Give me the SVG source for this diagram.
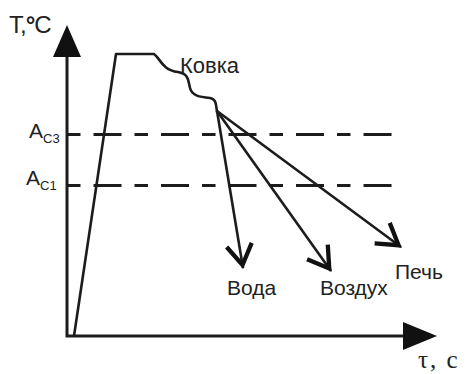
<svg xmlns="http://www.w3.org/2000/svg" width="467" height="374" viewBox="0 0 467 374">
  <style>
    .ln { fill: none; stroke: #1c1c1c; stroke-width: 2.6; stroke-linecap: butt; stroke-linejoin: round; }
    .ax { fill: none; stroke: #1c1c1c; stroke-width: 3; }
    .dash { fill: none; stroke: #1c1c1c; stroke-width: 3; stroke-dasharray: 13.5 13 28 13; }
    .head { fill: #111; stroke: none; }
    .lbl { font-family: "Liberation Sans", Arial, sans-serif; fill: #222; }
    .ser { font-family: "Liberation Serif", "Times New Roman", serif; fill: #222; }
  </style>
  <defs>
    <marker id="chev" viewBox="-30 -20 40 40" markerWidth="40" markerHeight="40" refX="3" refY="0" orient="auto" markerUnits="userSpaceOnUse">
      <path d="M-20.4,-12.7 L0,0 L-20.4,12.7" fill="none" stroke="#111" stroke-width="4.3" stroke-linejoin="miter"/>
    </marker>
  </defs>

  <!-- axes -->
  <g id="axes">
    <path class="ax" d="M67,57 L67,336 L405,336"/>
    <polygon class="head" points="67,25 81,57 53,57"/>
    <polygon class="head" points="437,336 403,322 403,350"/>
  </g>

  <!-- critical temperature levels -->
  <g id="levels">
    <line class="dash" x1="67" y1="134.5" x2="393" y2="134.5"/>
    <line class="dash" x1="67" y1="185.5" x2="393" y2="185.5"/>
  </g>

  <!-- heating, holding and forging curve -->
  <g id="forging">
    <path class="ln" d="M74,336 L116,54 L154,54 C160,58 162,70 178,72 C189,74 188,80 190,88 C192,96 200,97 210,98 C216,99 216,104 217,112"/>
  </g>

  <!-- cooling paths -->
  <g id="connectors">
    <line class="ln" x1="217" y1="111" x2="243" y2="268" marker-end="url(#chev)"/>
    <line class="ln" x1="217" y1="111" x2="331" y2="271" marker-end="url(#chev)"/>
    <line class="ln" x1="217" y1="111" x2="401" y2="247" marker-end="url(#chev)"/>
  </g>

  <!-- labels -->
  <g id="label-t">
    <text class="lbl" font-size="24" x="9" y="33" letter-spacing="-1">T,<tspan font-weight="bold">°</tspan>C</text>
  </g>
  <g id="label-ac3">
    <text class="lbl" font-size="21" x="29" y="138">A<tspan font-size="13" dy="5">C3</tspan></text>
  </g>
  <g id="label-ac1">
    <text class="lbl" font-size="21" x="26" y="185">A<tspan font-size="13" dy="5">C1</tspan></text>
  </g>
  <g id="label-kovka">
    <text class="lbl" font-size="22" x="180" y="73">Ковка</text>
  </g>
  <g id="label-voda">
    <text class="lbl" font-size="21" x="227" y="295">Вода</text>
  </g>
  <g id="label-vozdukh">
    <text class="lbl" font-size="21" x="320" y="295">Воздух</text>
  </g>
  <g id="label-pech">
    <text class="lbl" font-size="21" x="395" y="279">Печь</text>
  </g>
  <g id="label-tau">
    <text class="ser" font-size="25" x="418" y="368" letter-spacing="2">τ, c</text>
  </g>
</svg>
